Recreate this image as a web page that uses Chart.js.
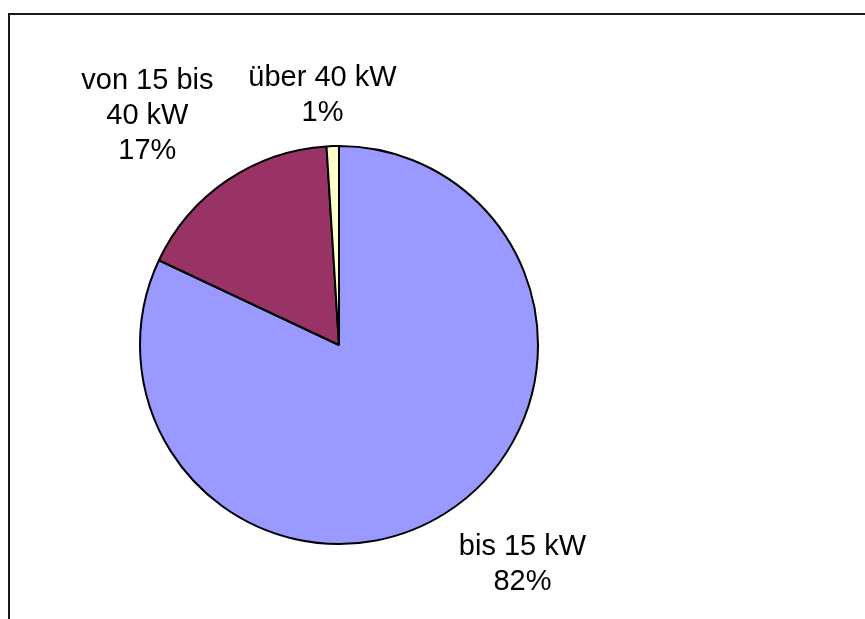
<!DOCTYPE html>
<html>
<head>
<meta charset="utf-8">
<script src="https://cdn.jsdelivr.net/npm/chart.js@4.4.0/dist/chart.umd.min.js"></script>
<style>
  body { margin: 0; background: #fff; }
  #wrap { position: relative; width: 865px; height: 619px; }
  #frame { position: absolute; left: 8px; top: 13px; right: 0; bottom: 0;
           border-left: 2px solid #1a1a1a; border-top: 2px solid #1a1a1a; }
  #c { position: absolute; left: 0; top: 0; }
</style>
</head>
<body>
<div id="wrap">
  <div id="frame"></div>
  <canvas id="c" width="865" height="619"></canvas>
</div>
<script>
var labels = [["bis 15 kW"], ["von 15 bis", "40 kW"], ["über 40 kW"]]
var werte = [82, 17, 1]
var farben = ["#9999FF", "#993366", "#FFFFCC"]

// Beschriftung ausserhalb der Tortenstuecke
var beschriftung = {
  id: 'beschriftung',
  afterDatasetsDraw: function(chart) {
    var ctx = chart.ctx
    var arcs = chart.getDatasetMeta(0).data
    ctx.save()
    ctx.font = '29px "Liberation Sans", Arial, sans-serif'
    ctx.fillStyle = '#000'
    ctx.textAlign = 'center'
    ctx.textBaseline = 'alphabetic'
    var lh = 35, cap = 21, oben = 5, unten = 6
    arcs.forEach(function(arc, i) {
      var p = arc.getProps(['x', 'y', 'startAngle', 'endAngle', 'outerRadius'], true)
      var mid = (p.startAngle + p.endAngle) / 2
      var cs = Math.cos(mid), sn = Math.sin(mid)
      var r = p.outerRadius + 19
      var ax = p.x + cs * r, ay = p.y + sn * r
      var zeilen = labels[i].concat([werte[i] + '%'])
      var w = 0
      zeilen.forEach(function(z) { w = Math.max(w, ctx.measureText(z).width) })
      w = w + 6
      var h = oben + cap + lh * (zeilen.length - 1) + unten
      var kx = Math.max(-1, Math.min(1, cs * 4))
      var ky = Math.max(-1, Math.min(1, sn * 4))
      var mx = ax + kx * w / 2
      var my = ay + ky * h / 2
      var y0 = my - h / 2 + oben + cap
      zeilen.forEach(function(z, j) {
        ctx.fillText(z, mx, y0 + j * lh)
      })
    })
    ctx.restore()
  }
}

new Chart("c", {
  type: 'pie',
  data: {
    labels: labels.map(function(l) { return l.join(' ') }),
    datasets: [{
      data: werte,
      backgroundColor: farben,
      borderColor: '#000',
      borderWidth: 2
    }]
  },
  options: {
    responsive: false,
    animation: false,
    layout: { padding: { left: 139, right: 326, top: 145, bottom: 74 } },
    plugins: {
      legend: { display: false },
      tooltip: { enabled: false }
    }
  },
  plugins: [beschriftung]
});
</script>
</body>
</html>
